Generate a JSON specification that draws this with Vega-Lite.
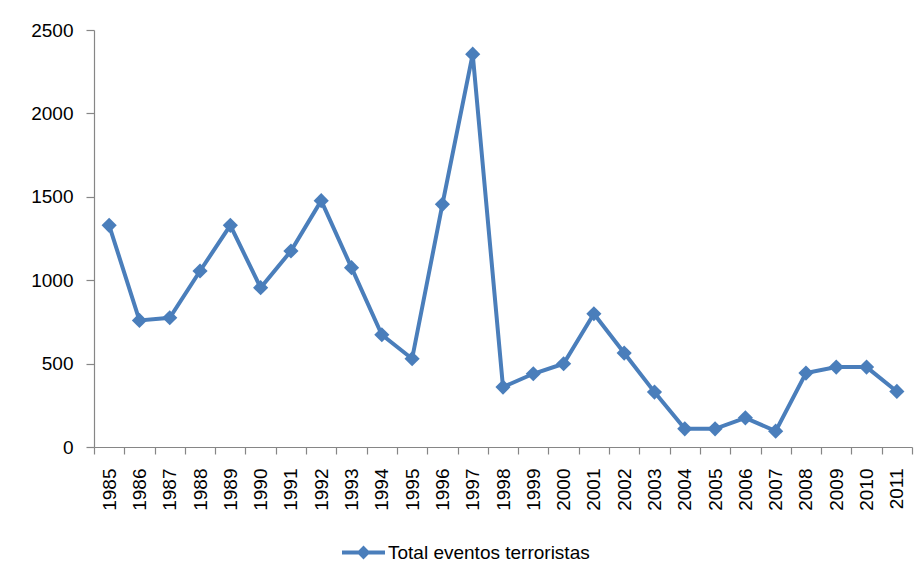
{
  "$schema": "https://vega.github.io/schema/vega-lite/v6.json",
  "width": 818,
  "height": 417,
  "autosize": "none",
  "padding": {"left": 94, "top": 30, "right": 12, "bottom": 134},
  "background": "white",
  "config": {
    "view": {"stroke": null},
    "font": "Liberation Sans",
    "axis": {
      "labelFont": "Liberation Sans",
      "labelFontSize": 19,
      "labelColor": "#000000",
      "domainColor": "#868686",
      "tickColor": "#868686",
      "domainWidth": 1.2,
      "tickWidth": 1.2,
      "grid": false,
      "title": null
    }
  },
  "data": {
    "values": [
      {"year": "1985", "value": 1329, "serie": "Total eventos terroristas"},
      {"year": "1986", "value": 759, "serie": "Total eventos terroristas"},
      {"year": "1987", "value": 775, "serie": "Total eventos terroristas"},
      {"year": "1988", "value": 1055, "serie": "Total eventos terroristas"},
      {"year": "1989", "value": 1329, "serie": "Total eventos terroristas"},
      {"year": "1990", "value": 955, "serie": "Total eventos terroristas"},
      {"year": "1991", "value": 1175, "serie": "Total eventos terroristas"},
      {"year": "1992", "value": 1477, "serie": "Total eventos terroristas"},
      {"year": "1993", "value": 1075, "serie": "Total eventos terroristas"},
      {"year": "1994", "value": 673, "serie": "Total eventos terroristas"},
      {"year": "1995", "value": 529, "serie": "Total eventos terroristas"},
      {"year": "1996", "value": 1455, "serie": "Total eventos terroristas"},
      {"year": "1997", "value": 2355, "serie": "Total eventos terroristas"},
      {"year": "1998", "value": 359, "serie": "Total eventos terroristas"},
      {"year": "1999", "value": 439, "serie": "Total eventos terroristas"},
      {"year": "2000", "value": 499, "serie": "Total eventos terroristas"},
      {"year": "2001", "value": 799, "serie": "Total eventos terroristas"},
      {"year": "2002", "value": 563, "serie": "Total eventos terroristas"},
      {"year": "2003", "value": 329, "serie": "Total eventos terroristas"},
      {"year": "2004", "value": 109, "serie": "Total eventos terroristas"},
      {"year": "2005", "value": 109, "serie": "Total eventos terroristas"},
      {"year": "2006", "value": 175, "serie": "Total eventos terroristas"},
      {"year": "2007", "value": 95, "serie": "Total eventos terroristas"},
      {"year": "2008", "value": 443, "serie": "Total eventos terroristas"},
      {"year": "2009", "value": 479, "serie": "Total eventos terroristas"},
      {"year": "2010", "value": 479, "serie": "Total eventos terroristas"},
      {"year": "2011", "value": 333, "serie": "Total eventos terroristas"}
    ]
  },
  "encoding": {
    "x": {
      "field": "year",
      "type": "ordinal",
      "scale": {"type": "band", "paddingInner": 0, "paddingOuter": 0},
      "axis": {
        "labelAngle": 270,
        "tickBand": "extent",
        "tickSize": 7,
        "labelPadding": 14
      }
    },
    "y": {
      "field": "value",
      "type": "quantitative",
      "scale": {"domain": [0, 2500], "nice": false},
      "axis": {
        "values": [0, 500, 1000, 1500, 2000, 2500],
        "format": "d",
        "tickSize": 8,
        "labelPadding": 13
      }
    }
  },
  "layer": [
    {
      "mark": {"type": "line", "color": "#4A7EBB", "strokeWidth": 4}
    },
    {
      "mark": {"type": "point", "shape": "diamond", "filled": true, "size": 230, "opacity": 1},
      "encoding": {
        "color": {
          "field": "serie",
          "type": "nominal",
          "scale": {"range": ["#4A7EBB"]},
          "legend": {
            "title": null,
            "orient": "none",
            "legendX": 248,
            "legendY": 501,
            "padding": 0,
            "symbolType": "M-1,-0.09L1,-0.09L1,0.09L-1,0.09Z M0,-0.32L0.32,0L0,0.32L-0.32,0Z",
            "symbolSize": 1849,
            "symbolStrokeWidth": 0,
            "symbolFillColor": "#4A7EBB",
            "symbolOpacity": 1,
            "labelFont": "Liberation Sans",
            "labelFontSize": 19,
            "labelColor": "#000000",
            "labelOffset": 3,
            "labelLimit": 400
          }
        }
      }
    }
  ]
}
